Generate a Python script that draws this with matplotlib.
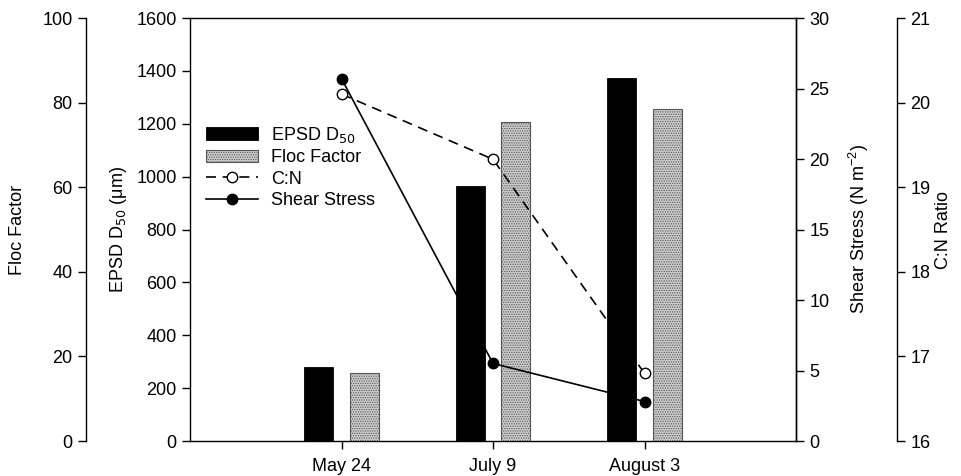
import matplotlib
matplotlib.use("Agg")
import matplotlib.pyplot as plt
import numpy as np

plt.rcParams['font.family'] = ['Liberation Sans', 'DejaVu Sans']
plt.rcParams['font.size'] = 13
plt.rcParams['hatch.color'] = '#8a8a8a'
plt.rcParams['hatch.linewidth'] = 0.6

# Sampling dates
dates = ["May 24", "July 9", "August 3"]
# Effective particle size distribution median diameter (µm)
epsd_d50 = [280, 965, 1372]
# Floc factor (dimensionless)
floc_factor = [16.0, 75.5, 78.5]
# Bed shear stress (N m^-2)
shear_stress = [25.7, 5.5, 2.8]
# Carbon to nitrogen ratio
cn_ratio = [20.1, 19.33, 16.8]

W, H = 961, 476
fig = plt.figure(figsize=(W / 100, H / 100), dpi=100)
ax = fig.add_axes([190 / W, (H - 441) / H, (796 - 190) / W, (441 - 18) / H])

x = np.arange(1, len(dates) + 1)
bw = 0.19
off = 0.15

# EPSD D50 bars on the main axis
b1 = ax.bar(x - off, epsd_d50, width=bw, color='black', edgecolor='black',
            linewidth=0.6, label=r'EPSD D$_{50}$', zorder=2)
ax.set_xlim(0, 4)
ax.set_ylim(0, 1600)
ax.set_yticks(np.arange(0, 1601, 200))
ax.set_xticks(x)
ax.set_xticklabels(dates)
ax.set_ylabel(r'EPSD D$_{50}$ ($\mathregular{\mu}$m)', labelpad=5)
ax.tick_params(direction='out', length=6, width=1)
ax.tick_params(axis='x', pad=6)

# Floc factor on an offset left axis
ax_ff = ax.twinx()
ax_ff.spines['left'].set_position(('outward', 75))
ax_ff.spines['left'].set_visible(True)
ax_ff.spines['right'].set_visible(False)
ax_ff.spines['top'].set_visible(False)
ax_ff.spines['bottom'].set_visible(False)
ax_ff.yaxis.set_ticks_position('left')
ax_ff.yaxis.set_label_position('left')
b2 = ax_ff.bar(x + off, floc_factor, width=bw, color='#cdcdcd', edgecolor='#555555',
               linewidth=0.8, hatch='.......', label='Floc Factor', zorder=2)
ax_ff.set_ylim(0, 100)
ax_ff.set_yticks(np.arange(0, 101, 20))
ax_ff.set_ylabel('Floc Factor', labelpad=12)
ax_ff.tick_params(direction='out', length=6, width=1)

# Shear stress on the right axis
ax_ss = ax.twinx()
ax_ss.spines['top'].set_visible(False)
ax_ss.spines['bottom'].set_visible(False)
ax_ss.spines['left'].set_visible(False)
l_ss, = ax_ss.plot(x, shear_stress, color='black', linewidth=1.2, marker='o',
                   markersize=7.5, markerfacecolor='black', markeredgecolor='black',
                   label='Shear Stress', zorder=4)
ax_ss.set_ylim(0, 30)
ax_ss.set_yticks(np.arange(0, 31, 5))
ax_ss.set_ylabel(r'Shear Stress (N m$^{\mathregular{-2}}$)', labelpad=13)
ax_ss.tick_params(direction='out', length=6, width=1)

# C:N ratio on an offset right axis
ax_cn = ax.twinx()
ax_cn.spines['right'].set_position(('outward', 73))
for s in ('top', 'bottom', 'left'):
    ax_cn.spines[s].set_visible(False)
l_cn, = ax_cn.plot(x, cn_ratio, color='black', linewidth=1.2, linestyle=(0, (6, 4)),
                   marker='o', markersize=7.5, markerfacecolor='white',
                   markeredgecolor='black', label='C:N', zorder=4)
ax_cn.set_ylim(16, 21)
ax_cn.set_yticks(np.arange(16, 22, 1))
ax_cn.set_ylabel('C:N Ratio', labelpad=3)
ax_cn.tick_params(direction='out', length=6, width=1)

for a in (ax, ax_ff, ax_ss, ax_cn):
    for s in a.spines.values():
        s.set_linewidth(1)
    a.patch.set_visible(False)

ax.legend(handles=[b1, b2, l_cn, l_ss], loc='upper left',
          bbox_to_anchor=(0.015, 0.765), frameon=False, handlelength=2.85,
          handletextpad=0.75, labelspacing=0.25, borderaxespad=0, fontsize=13)

fig.savefig('out.png', dpi=100)
